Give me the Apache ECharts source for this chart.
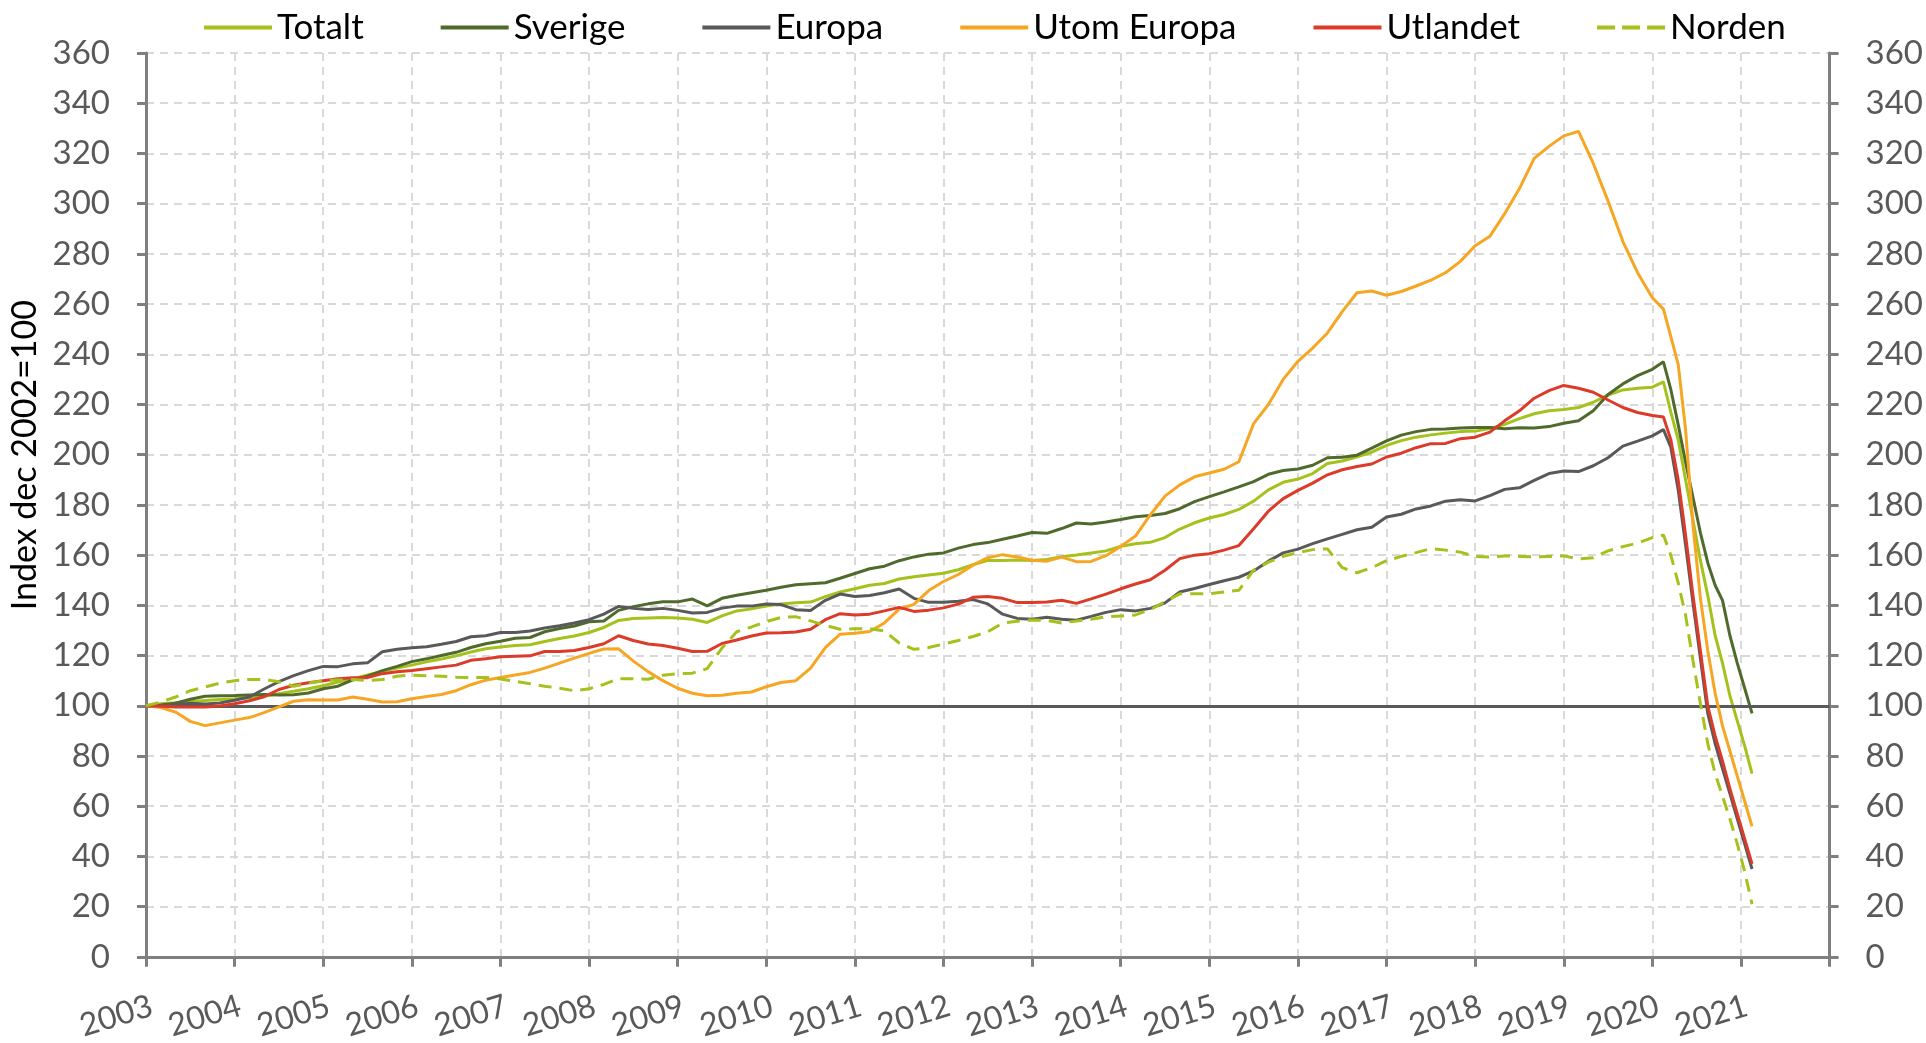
<!DOCTYPE html>
<html>
<head>
<meta charset="utf-8">
<script src="https://cdn.jsdelivr.net/npm/echarts@6/dist/echarts.min.js"></script>
<style>
html,body{margin:0;padding:0;background:#fff;}
#chart{width:1926px;height:1043px;}
</style>
</head>
<body>
<div id="chart"></div>
<script>
// sample grid: every 2 months 2003.0–2020.0, then monthly through the 2020 drop
const TIMES_MAIN = [];
for (let i = 0; i <= 102; i++) TIMES_MAIN.push(2003 + i / 6);
const TIMES_CRASH = [];
for (let j = 0; j <= 12; j++) TIMES_CRASH.push(2020.125 + j / 12);
const times = TIMES_MAIN.concat(TIMES_CRASH);

const seriesNames = ['Totalt', 'Sverige', 'Europa', 'Utom Europa', 'Utlandet', 'Norden'];
const xTickLabels = [2003,2004,2005,2006,2007,2008,2009,2010,2011,2012,2013,2014,2015,2016,2017,2018,2019,2020,2021];
const yTicks = [0,20,40,60,80,100,120,140,160,180,200,220,240,260,280,300,320,340,360];

const totalt = [
100,100.8,101.2,101.6,102.1,102.5,
102.8,103.2,103.8,104.8,105.8,106.8,
108.0,109.5,110.7,112.3,113.7,115.0,
116.2,117.5,118.6,119.9,121.4,122.7,
123.4,124.0,124.3,125.6,126.8,127.8,
129.2,131.2,134.0,134.8,135.0,135.2,
135.0,134.5,133.2,135.8,137.8,138.6,
139.7,140.5,141.0,141.3,143.5,145.3,
146.6,148.0,148.7,150.5,151.4,152.1,
152.8,154.2,156.2,157.9,157.9,158.1,
157.9,158.3,159.4,160.1,160.9,161.7,
163.5,164.5,165.1,167.0,170.4,172.9,
174.8,176.2,178.2,181.5,186.0,189.0,
190.3,192.5,196.5,197.5,199.2,201.0,
203.7,205.6,207.0,207.9,208.6,209.2,
209.4,210.4,212.1,214.4,216.3,217.5,
218.0,218.8,220.9,223.8,225.8,226.5,
226.9,
229,217,206,190,174,158,144,128,117,104,94,84,73
];

const sverige = [
100,100.3,101.0,102.6,103.8,104.0,
104.1,104.3,104.5,104.3,104.4,105.1,
106.8,107.8,110.3,111.8,114.0,115.7,
117.6,118.7,120.0,121.3,123.2,124.7,
125.7,126.9,127.2,129.5,130.8,131.8,
133.5,133.8,138.0,139.5,140.6,141.4,
141.4,142.5,139.8,142.8,144.0,145.0,
146.0,147.2,148.2,148.6,149.0,150.8,
152.7,154.6,155.6,157.8,159.3,160.4,
160.9,162.8,164.2,165.0,166.3,167.6,
169.0,168.7,170.6,172.8,172.4,173.2,
174.2,175.3,175.8,176.6,178.5,181.3,
183.3,185.2,187.2,189.3,192.2,193.7,
194.3,195.8,198.8,199.0,199.8,202.6,
205.5,207.8,209.2,210.1,210.2,210.6,
210.8,210.8,210.3,210.7,210.6,211.2,
212.5,213.5,217.5,224.0,228.2,231.5,
234.0,
237,226,212,197,183,169,157,148,142,128,117,107,97
];

const europa = [
100,100.1,100.4,101.0,100.7,101.1,
102.2,103.5,106.7,109.6,112.0,114.0,
115.7,115.6,116.7,117.1,121.5,122.5,
123.1,123.5,124.5,125.6,127.5,127.9,
129.2,129.2,129.8,131.0,131.9,133.0,
134.3,136.5,139.6,138.8,138.4,138.8,
138.0,137.0,137.2,138.9,139.7,139.7,
140.5,140.3,138.3,138.0,142.0,144.5,
143.5,143.9,145.0,146.5,142.8,141.2,
141.2,141.6,142.3,140.6,136.5,134.8,
134.5,135.3,134.5,134.1,135.6,137.2,
138.3,137.8,138.8,141.0,145.3,146.7,
148.3,149.8,151.2,153.7,157.6,160.9,
162.4,164.6,166.5,168.3,170.1,171.1,
175.2,176.3,178.4,179.6,181.5,182.1,
181.6,183.7,186.2,186.8,189.8,192.5,
193.5,193.3,195.6,198.8,203.4,205.4,
207.5,
210,203,186,164,141,119,97,85,75,65,55,45,35
];

const utomEuropa = [
100,99.3,97.5,93.8,92.1,93.2,
94.3,95.3,97.3,99.6,101.8,102.4,
102.3,102.3,103.5,102.6,101.5,101.6,
102.8,103.7,104.5,106.0,108.4,110.2,
111.3,112.3,113.3,115.0,117.0,119.0,
120.9,122.6,122.7,117.8,113.6,110.0,
107.0,105.0,104.0,104.2,105.0,105.5,
107.6,109.3,110.0,115.0,123.2,128.5,
128.9,129.6,133.0,138.5,140.4,145.9,
149.5,152.3,156.0,159.0,160.2,159.3,
158.0,157.6,159.2,157.4,157.5,159.8,
163.5,167.6,176.0,183.5,188.0,191.2,
192.7,194.2,197.2,212.4,220.0,230.0,
237.2,242.5,248.5,257.0,264.5,265.2,
263.5,265.0,267.2,269.5,272.5,277.0,
283.2,287.0,296.0,306.0,318.0,322.8,
327.0,328.8,316.0,301.0,285.0,272.5,
262.5,
258,247,236,210,172,143,122,105,92,82,72,62,52
];

const utlandet = [
100,99.8,99.5,99.5,99.5,99.9,
100.8,102.0,103.6,106.5,108.2,109.2,
110.0,110.8,111.2,111.2,112.8,113.6,
114.1,114.8,115.5,116.2,118.1,118.7,
119.5,119.7,119.9,121.6,121.6,122.0,
123.2,124.7,127.9,126.0,124.6,124.0,
122.9,121.6,121.7,124.8,126.2,127.8,
129.0,129.1,129.4,130.5,134.3,136.7,
136.2,136.5,137.8,139.2,137.6,138.1,
139.0,140.5,143.2,143.5,142.8,141.1,
141.1,141.3,142.0,140.8,142.6,144.5,
146.6,148.5,150.2,154.0,158.6,160.0,
160.6,162.0,163.8,170.5,177.5,182.5,
185.8,188.7,192.0,194.0,195.3,196.3,
199.1,200.6,202.8,204.4,204.5,206.4,
207.0,209.0,213.5,217.5,222.5,225.5,
227.6,226.5,224.9,221.8,218.8,216.8,
215.6,
215,206,190,168,144,122,100,88,78,67,57,47,37
];

const norden = [
100,101.5,103.5,106.0,107.5,109.0,
110.0,110.5,110.5,109.6,107.8,109.0,
110.0,110.3,110.5,110.0,110.5,111.8,
112.2,112.0,111.8,111.4,111.3,111.3,
110.7,109.8,108.8,107.8,107.0,106.0,
106.8,108.5,110.8,110.8,110.6,112.2,
112.8,113.0,114.8,123.0,129.5,131.4,
133.5,135.2,135.5,133.8,132.0,130.5,
130.7,130.7,129.8,125.0,122.5,123.2,
124.6,126.0,127.6,129.5,132.9,133.7,
134.2,134.0,133.0,133.8,134.5,135.4,
135.8,136.2,138.3,141.5,144.6,144.6,
144.6,145.3,146.0,154.0,157.2,159.5,
161.0,162.2,162.5,155.0,153.0,155.0,
157.8,159.5,161.0,162.6,162.0,161.2,
159.5,159.3,159.7,159.5,159.3,159.5,
159.7,158.5,159.0,161.7,163.4,164.8,
167.0,
168,160,149,136,118,101,85,73,64,55,45,34,21
];

const valueArrays = [totalt, sverige, europa, utomEuropa, utlandet, norden];
const colors = ['#A4C11C', '#4F6A2B', '#595959', '#F6A623', '#DC3B2A', '#A4C11C'];

const FONT = 'Lato, "Liberation Sans", sans-serif';

const chart = echarts.init(document.getElementById('chart'), null, {renderer: 'canvas'});

const series = seriesNames.map((name, k) => {
  const s = {
    name: name,
    type: 'line',
    data: times.map((t, i) => [t, valueArrays[k][i]]),
    showSymbol: false,
    symbol: 'none',
    smooth: false,
    lineStyle: {color: colors[k], width: 3, type: name === 'Norden' ? [13, 8] : 'solid'},
    itemStyle: {color: colors[k]},
    z: 3 + k
  };
  if (k === 0) {
    s.markLine = {
      silent: true,
      symbol: ['none', 'none'],
      label: {show: false},
      lineStyle: {type: 'solid', color: '#595959', width: 3},
      data: [{yAxis: 100}],
      animation: false
    };
  }
  return s;
});

const DASH_ICON = 'path://M0,0H18V4H0Z M25,0H43V4H25Z M50,0H68V4H50Z';
const legendData = seriesNames.map(n => ({name: n, icon: n === 'Norden' ? DASH_ICON : 'rect'}));

const yAxisCommon = {
  type: 'value',
  min: yTicks[0],
  max: yTicks[yTicks.length - 1],
  interval: 20,
  axisLine: {show: true, lineStyle: {color: '#7F7F7F', width: 3}},
  axisTick: {show: true, inside: false, length: 9, lineStyle: {color: '#7F7F7F', width: 3}},
  axisLabel: {color: '#595959', fontSize: 33, fontFamily: FONT, margin: 36}
};

chart.setOption({
  animation: false,
  backgroundColor: '#fff',
  color: colors,
  grid: {left: 146, right: 96, top: 53, bottom: 86, containLabel: false},
  legend: {
    data: legendData,
    top: 5,
    left: 199,
    itemWidth: 68,
    itemHeight: 4,
    itemGap: 77,
    symbolKeepAspect: false,
    textStyle: {color: '#000', fontSize: 35, fontFamily: FONT}
  },
  xAxis: {
    type: 'value',
    min: 2003,
    max: 2022,
    interval: 1,
    axisLine: {show: true, onZero: false, lineStyle: {color: '#7F7F7F', width: 3}},
    axisTick: {show: true, length: 10, lineStyle: {color: '#7F7F7F', width: 3}},
    axisLabel: {
      color: '#595959', fontSize: 32, fontFamily: FONT, rotate: 17, margin: 50,
      padding: [0, -6, 0, 0],
      formatter: v => (xTickLabels.indexOf(v) >= 0 ? String(v) : '')
    },
    splitLine: {show: true, lineStyle: {color: '#D9D9D9', width: 2, type: [8, 6]}}
  },
  yAxis: [
    Object.assign({}, yAxisCommon, {
      position: 'left',
      splitLine: {show: true, lineStyle: {color: '#D9D9D9', width: 2, type: [8, 6]}}
    }),
    Object.assign({}, yAxisCommon, {
      position: 'right',
      splitLine: {show: false}
    })
  ],
  graphic: [{
    type: 'text',
    left: 8,
    top: 300,
    rotation: Math.PI / 2,
    style: {text: 'Index dec 2002=100', fill: '#000', fontSize: 34, fontFamily: FONT}
  }],
  series: series
});
</script>
</body>
</html>
